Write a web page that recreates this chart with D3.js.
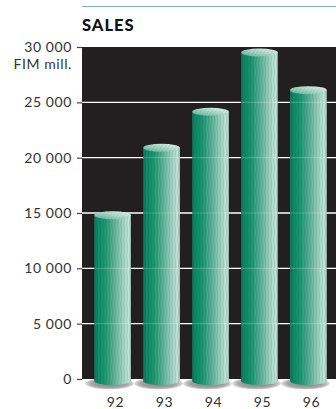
<!DOCTYPE html>
<html>
<head>
<meta charset="utf-8">
<script src="https://cdn.jsdelivr.net/npm/d3@7"></script>
<style>
  html, body { margin: 0; padding: 0; background: #fff; }
  svg { display: block; }
</style>
</head>
<body>
<svg id="chart" width="336" height="409"></svg>
<script>
// Net sales per year, FIM million
const years = ["92", "93", "94", "95", "96"];
const sales = [14800, 20900, 24150, 29500, 26100];
const yTicks = [0, 5000, 10000, 15000, 20000, 25000, 30000];
const title = "SALES";
const unit = "FIM mill.";

const W = 336, H = 409;
const plot = { left: 82, right: 336, top: 47, bottom: 379 };
const font = "Lato, 'DejaVu Sans', sans-serif";

const svg = d3.select("#chart");
const defs = svg.append("defs");

const x = d3.scaleBand()
  .domain(years)
  .range([plot.left, 339])
  .paddingInner(0.25)
  .paddingOuter(0.25);

const y = d3.scaleLinear()
  .domain([0, 30000])
  .range([plot.bottom, plot.top]);

const fmt = v => v === 0 ? "0" : d3.format(",")(v).replace(/,/g, " ");

// Cylinder body shading: dark green left, pale mint right
const bodyGrad = defs.append("linearGradient").attr("id", "body").attr("x1", 0).attr("x2", 1).attr("y1", 0).attr("y2", 0);
[[0, "#17735a"], [0.1, "#0b8b66"], [0.28, "#1b9672"], [0.55, "#62b499"], [0.8, "#a6d6c5"], [0.93, "#c3e4d8"], [1, "#a3d0bf"]]
  .forEach(([o, c]) => bodyGrad.append("stop").attr("offset", o).attr("stop-color", c));

// Top cap shading
const capGrad = defs.append("linearGradient").attr("id", "cap").attr("x1", 0).attr("x2", 1).attr("y1", 1).attr("y2", 0);
[[0, "#5aae92"], [0.5, "#a9d6c5"], [1, "#eef7f3"]]
  .forEach(([o, c]) => capGrad.append("stop").attr("offset", o).attr("stop-color", c));

// Base shadow
const shadowGrad = defs.append("radialGradient").attr("id", "shadow");
[[0, "#7d7d7d"], [0.75, "#a6a6a6"], [1, "#e0e0e0"]]
  .forEach(([o, c]) => shadowGrad.append("stop").attr("offset", o).attr("stop-color", c));

// Fine vertical zigzag texture on the cylinders
const tex = defs.append("pattern").attr("id", "tex").attr("patternUnits", "userSpaceOnUse")
  .attr("width", 3).attr("height", 16);
tex.append("path").attr("d", "M0.8,0 L1.8,8 L0.8,16")
  .attr("fill", "none").attr("stroke", "rgba(0,50,35,0.22)").attr("stroke-width", 0.6);

// Diagonal hatching on the caps
const hatch = defs.append("pattern").attr("id", "hatch").attr("patternUnits", "userSpaceOnUse")
  .attr("width", 3).attr("height", 3).attr("patternTransform", "rotate(35)");
hatch.append("line").attr("x1", 0).attr("y1", 0).attr("x2", 0).attr("y2", 3)
  .attr("stroke", "rgba(0,70,50,0.22)").attr("stroke-width", 0.7);

// Teal rule and title
svg.append("line")
  .attr("x1", plot.left).attr("x2", W).attr("y1", 6.5).attr("y2", 6.5)
  .attr("stroke", "#7db6a6").attr("stroke-width", 1.2);

svg.append("text")
  .attr("x", plot.left).attr("y", 31)
  .attr("font-family", font)
  .attr("font-weight", 900).attr("font-size", 16.5).attr("letter-spacing", 1)
  .attr("fill", "#111")
  .text(title);

// Dark plot background
svg.append("rect")
  .attr("x", plot.left).attr("y", y(30000))
  .attr("width", plot.right - plot.left).attr("height", y(0) - y(30000))
  .attr("fill", "#231f20");

// Y axis: ticks, labels, gridlines
const yAxis = d3.axisLeft(y).tickValues(yTicks).tickSize(5).tickPadding(5).tickFormat(fmt);
const gy = svg.append("g").attr("transform", `translate(${plot.left},0)`).call(yAxis);
gy.select(".domain").remove();
gy.selectAll(".tick line").attr("stroke", "#444").attr("stroke-width", 1.2);
gy.selectAll(".tick text")
  .attr("font-family", font)
  .attr("font-size", 14).attr("letter-spacing", 0.6).attr("fill", "#333");

svg.append("text")
  .attr("x", 72).attr("y", 68.5)
  .attr("text-anchor", "end")
  .attr("font-family", font)
  .attr("font-size", 14).attr("letter-spacing", 0.6).attr("fill", "#333")
  .text(unit);

const grid = svg.append("g");
grid.selectAll("line").data(yTicks.filter(v => v > 0 && v < 30000)).join("line")
  .attr("x1", plot.left).attr("x2", plot.right)
  .attr("y1", d => y(d)).attr("y2", d => y(d))
  .attr("stroke", "#fff").attr("stroke-width", 1.4);

// Cylinders
const ry = 4;
const bars = svg.append("g").selectAll("g").data(years.map((yr, i) => ({ yr, v: sales[i] }))).join("g");

bars.append("ellipse")
  .attr("cx", d => x(d.yr) + x.bandwidth() / 2 - 3)
  .attr("cy", y(0) + 4.5)
  .attr("rx", x.bandwidth() / 2 + 6)
  .attr("ry", 6)
  .attr("fill", "url(#shadow)");

const bodyPath = d => {
  const l = x(d.yr), r = l + x.bandwidth(), top = y(d.v), bot = y(0) + 2;
  const rx = x.bandwidth() / 2;
  return `M${l},${top} L${r},${top} L${r},${bot} A${rx},${ry} 0 0 1 ${l},${bot} Z`;
};

bars.append("path").attr("d", bodyPath).attr("fill", "url(#body)");
bars.append("path").attr("d", bodyPath).attr("fill", "url(#tex)");

// Faint gridline showing through the cylinders
bars.each(function (d) {
  const g = d3.select(this);
  yTicks.filter(v => v > 0 && v < d.v - 300).forEach(v => {
    g.append("line")
      .attr("x1", x(d.yr)).attr("x2", x(d.yr) + x.bandwidth())
      .attr("y1", y(v)).attr("y2", y(v))
      .attr("stroke", "rgba(255,255,255,0.2)").attr("stroke-width", 1.2);
  });
});

bars.append("ellipse")
  .attr("cx", d => x(d.yr) + x.bandwidth() / 2)
  .attr("cy", d => y(d.v))
  .attr("rx", x.bandwidth() / 2).attr("ry", ry)
  .attr("fill", "url(#cap)");
bars.append("ellipse")
  .attr("cx", d => x(d.yr) + x.bandwidth() / 2)
  .attr("cy", d => y(d.v))
  .attr("rx", x.bandwidth() / 2).attr("ry", ry)
  .attr("fill", "url(#hatch)");

// Year labels
svg.append("g").selectAll("text").data(years).join("text")
  .attr("x", d => x(d) + x.bandwidth() / 2 + 3)
  .attr("y", 407)
  .attr("text-anchor", "middle")
  .attr("font-family", font)
  .attr("font-size", 14).attr("letter-spacing", 0.6).attr("fill", "#333")
  .text(d => d);
</script>
</body>
</html>
